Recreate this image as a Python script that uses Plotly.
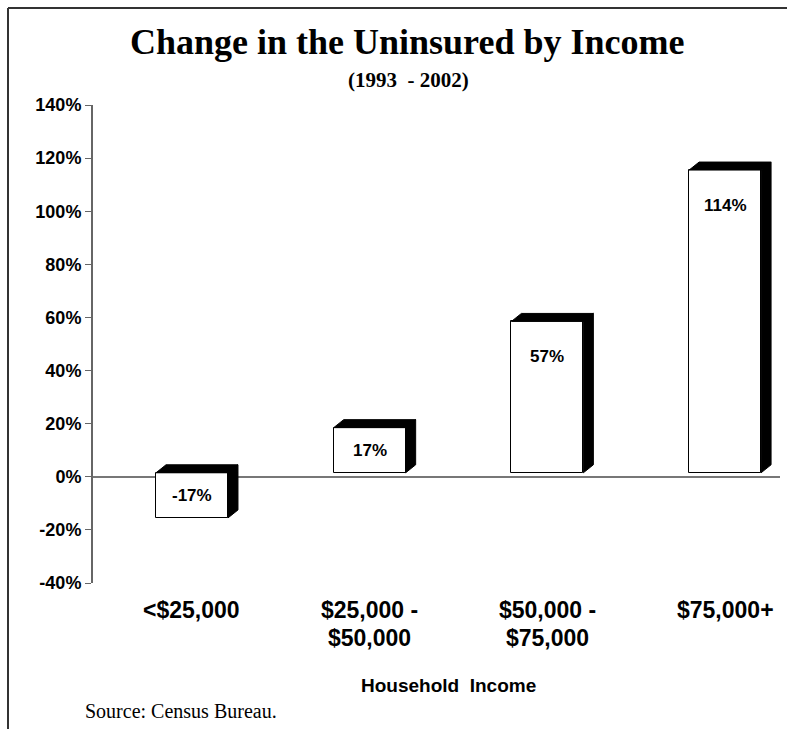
import plotly.graph_objects as go

# ---- data ----
categories = ["<$25,000", "$25,000 -\n$50,000", "$50,000 -\n$75,000", "$75,000+"]
values = [-17, 17, 57, 114]
value_labels = ["-17%", "17%", "57%", "114%"]
y_ticks = [-40, -20, 0, 20, 40, 60, 80, 100, 120, 140]
y_tick_labels = ["-40%", "-20%", "0%", "20%", "40%", "60%", "80%", "100%", "120%", "140%"]
title_text = "Change in the Uninsured by Income"
subtitle_text = "(1993  - 2002)"
x_title = "Household  Income"
source_text = "Source: Census Bureau."

# ---- style ----
W, H = 787, 729
ML, MR, MT, MB = 93, 7, 105, 146
PW, PH = W - ML - MR, H - MT - MB
XR = [-0.557, 3.309]
YR = [-40, 140]
BAR_W = 0.405
BASE = 1.5
DX = 10 * (XR[1] - XR[0]) / PW      # depth in x data units
DY = 8 * (YR[1] - YR[0]) / PH       # depth in y data units
SANS = "Liberation Sans, Arial, sans-serif"
SERIF = "Liberation Serif, Times New Roman, serif"

def px_x(p):
    return (p - ML) / PW

def px_y(p):
    return (H - MB - p) / PH

xs = list(range(len(categories)))

fig = go.Figure()

# front faces
fig.add_trace(go.Bar(
    x=xs, y=values, base=[BASE] * len(values), width=BAR_W,
    marker=dict(color="white", line=dict(color="black", width=1)),
    hoverinfo="skip", showlegend=False,
))

# depth faces (top + side), black
px_, py_ = [], []
for x, v in zip(xs, values):
    x0, x1 = x - BAR_W / 2, x + BAR_W / 2
    top = max(BASE, BASE + v)
    bot = min(BASE, BASE + v)
    px_ += [x0, x0 + DX, x1 + DX, x1, x0, None]
    py_ += [top, top + DY, top + DY, top, top, None]
    px_ += [x1, x1, x1 + DX, x1 + DX, x1, None]
    py_ += [bot, top, top + DY, bot + DY, bot, None]
fig.add_trace(go.Scatter(
    x=px_, y=py_, mode="lines", fill="toself", fillcolor="black",
    line=dict(color="black", width=1), hoverinfo="skip", showlegend=False,
))

annotations = []
# value labels
for x, v, lab in zip(xs, values, value_labels):
    if abs(v) > 30:
        y, ys = BASE + v, -35
    else:
        y, ys = BASE + v / 2, 0
    annotations.append(dict(
        x=x, y=y, xref="x", yref="y", text=f"<b>{lab}</b>", showarrow=False,
        yshift=ys, font=dict(family=SANS, size=17, color="black"),
        xanchor="center", yanchor="middle",
    ))

# category labels (two lines)
for x, c in zip(xs, categories):
    for k, line in enumerate(c.split("\n")):
        annotations.append(dict(
            x=x, y=px_y(610 + 28 * k), xref="x", yref="paper",
            text=f"<b>{line}</b>", showarrow=False,
            font=dict(family=SANS, size=23, color="black"),
            xanchor="center", yanchor="middle",
        ))

annotations += [
    dict(x=px_x(407), y=px_y(42), xref="paper", yref="paper",
         text=f"<b>{title_text}</b>", showarrow=False,
         font=dict(family=SERIF, size=36, color="black"),
         xanchor="center", yanchor="middle"),
    dict(x=px_x(408), y=px_y(80), xref="paper", yref="paper",
         text=f"<b>{subtitle_text}</b>", showarrow=False,
         font=dict(family=SERIF, size=21, color="black"),
         xanchor="center", yanchor="middle"),
    dict(x=px_x(449), y=px_y(685), xref="paper", yref="paper",
         text=f"<b>{x_title}</b>", showarrow=False,
         font=dict(family=SANS, size=19, color="black"),
         xanchor="center", yanchor="middle"),
    dict(x=px_x(83), y=px_y(711), xref="paper", yref="paper",
         text=source_text, showarrow=False,
         font=dict(family=SERIF, size=20, color="black"),
         xanchor="left", yanchor="middle"),
]

shapes = [
    dict(type="line", xref="paper", yref="paper",
         x0=px_x(8), x1=px_x(8), y0=px_y(8), y1=px_y(729),
         line=dict(color="#333333", width=2)),
    dict(type="line", xref="paper", yref="paper",
         x0=px_x(8), x1=px_x(787), y0=px_y(8), y1=px_y(8),
         line=dict(color="#333333", width=2)),
]

fig.update_layout(
    width=W, height=H,
    margin=dict(l=ML, r=MR, t=MT, b=MB, pad=0),
    paper_bgcolor="white", plot_bgcolor="white",
    annotations=annotations, shapes=shapes,
    xaxis=dict(range=XR, showticklabels=False, showgrid=False, zeroline=False,
               showline=False, ticks="", fixedrange=True),
    yaxis=dict(range=YR, tickvals=y_ticks,
               ticktext=[f"<b>{t}</b>" for t in y_tick_labels],
               tickfont=dict(family=SANS, size=18, color="black"),
               ticks="outside", ticklen=6, tickcolor="#666666", tickwidth=1,
               showline=True, linecolor="#666666", linewidth=2,
               showgrid=False, zeroline=True, zerolinecolor="#777777",
               zerolinewidth=2, fixedrange=True),
    bargap=0,
)

fig.write_html("out.html")
